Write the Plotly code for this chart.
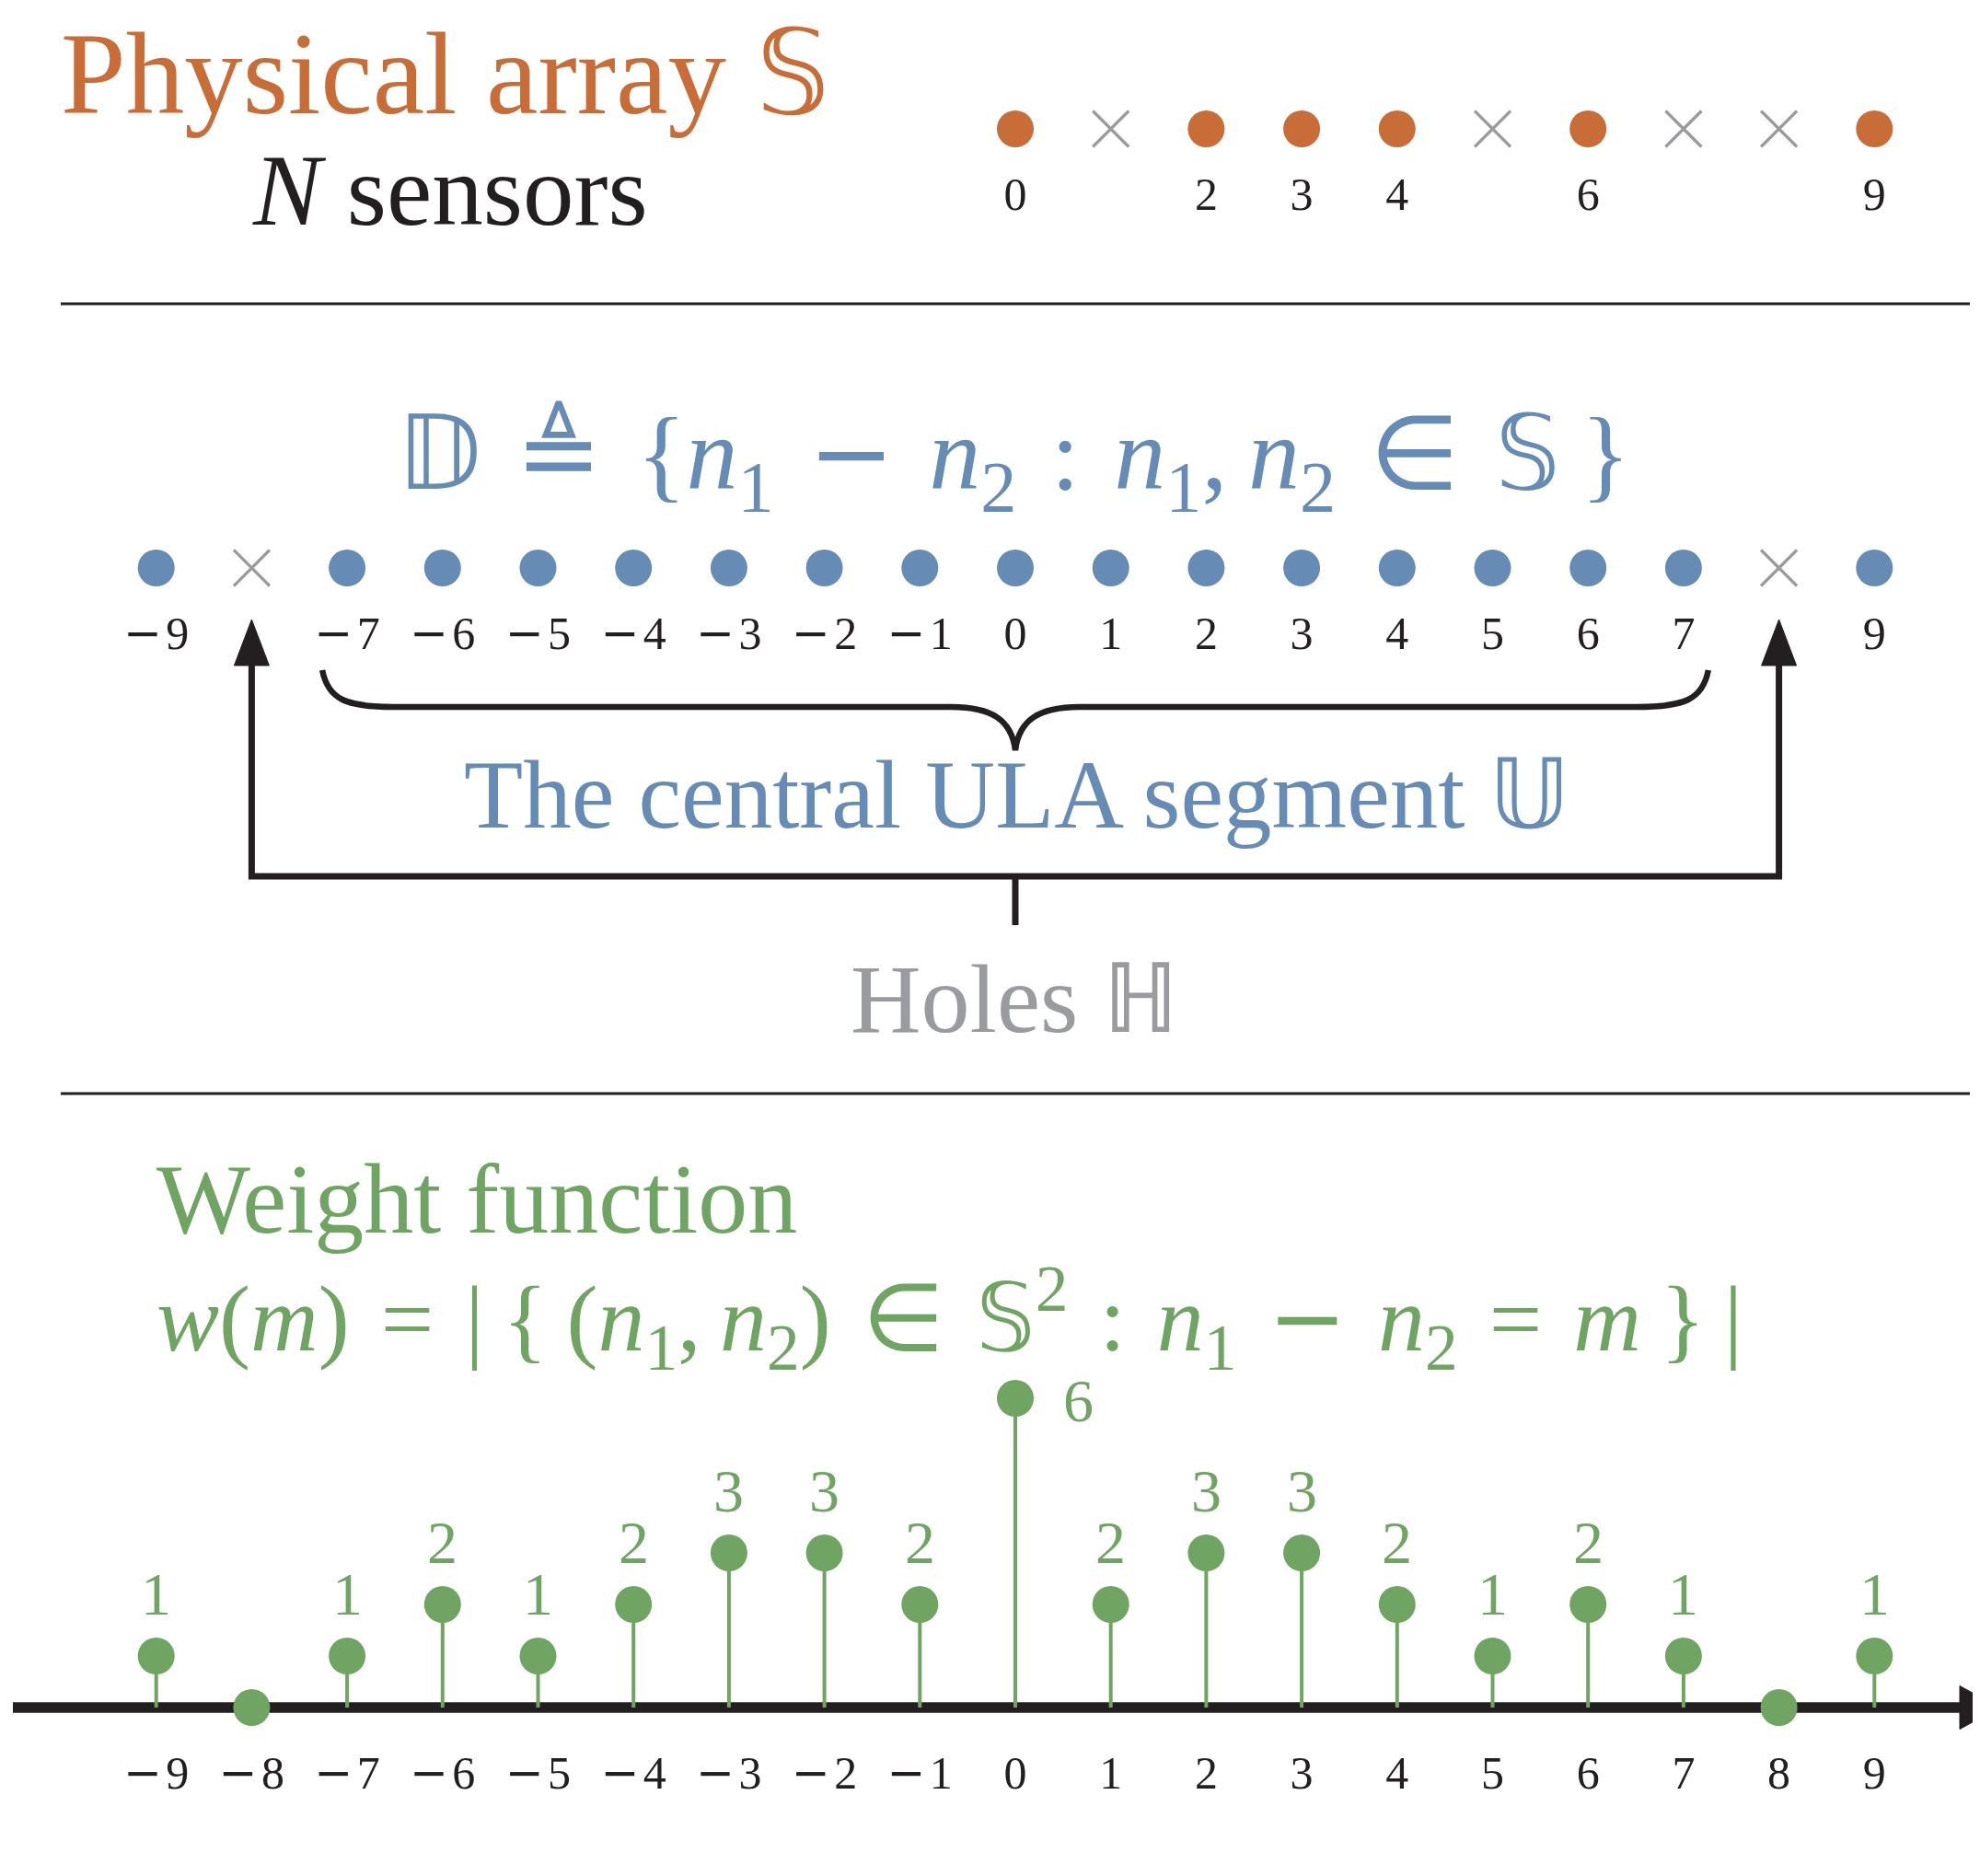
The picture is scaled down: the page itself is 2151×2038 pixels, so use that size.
import plotly.graph_objects as go

# ---------------- data ----------------
physical_sensors = [0, 2, 3, 4, 6, 9]          # S
physical_empty = [1, 5, 7, 8]                   # unoccupied positions in [0, 9]
diff_coarray = [-9, -7, -6, -5, -4, -3, -2, -1, 0, 1, 2, 3, 4, 5, 6, 7, 9]   # D
holes = [-8, 8]                                  # H
ula_segment = [-7, 7]                            # U end points
lags = list(range(-9, 10))
weights = [1, 0, 1, 2, 1, 2, 3, 3, 2, 6, 2, 3, 3, 2, 1, 2, 1, 0, 1]

MINUS = "<span style='font-family:DejaVu Sans'>\u2212</span>"


def lab(v):
    return (MINUS + "\u200a" + str(-v)) if v < 0 else str(v)


physical_labels = [lab(v) for v in physical_sensors]
diff_labels = [lab(v) for v in diff_coarray]
lag_labels = [lab(v) for v in lags]

# ---------------- style ----------------
W, H = 2151, 2038
OFF = 8             # page body margin
ORANGE = "#C86C38"
BLUE = "#668CB5"
GREEN = "#70A463"
GRAY = "#9A9B9E"
BLACK = "#231F20"
SERIF = "Liberation Serif"

UNIT = 103.7        # px per lag
X0 = 1103           # page px of lag 0
XR = [(OFF - X0) / UNIT, (W + OFF - X0) / UNIT]

# weight axis: 0 at page px 1855, 56 px per unit
WUNIT = 56.0
WBASE = 1855 - OFF
w_lo = -(H - WBASE) / WUNIT
Y2R = [w_lo, w_lo + H / WUNIT]


def px(xp):
    return (xp - X0) / UNIT


# row positions (page pixel units on layout axis y, top-down)
ROW_S, ROW_S_LAB = 140, 215
ROW_D, ROW_D_LAB = 617, 692
ROW_W_LAB = 1930

fig = go.Figure()

# physical array row
fig.add_trace(go.Scatter(x=physical_sensors, y=[ROW_S] * len(physical_sensors), mode="markers",
                         marker=dict(size=40, color=ORANGE), hoverinfo="skip"))
fig.add_trace(go.Scatter(x=physical_empty, y=[ROW_S] * len(physical_empty), mode="markers",
                         marker=dict(size=39, symbol="x-thin", line=dict(width=3.2, color=GRAY)),
                         hoverinfo="skip"))
fig.add_trace(go.Scatter(x=physical_sensors, y=[ROW_S_LAB] * len(physical_sensors), mode="text",
                         text=physical_labels, textposition="middle center",
                         textfont=dict(family=SERIF, size=50, color=BLACK), hoverinfo="skip"))

# difference coarray row
fig.add_trace(go.Scatter(x=diff_coarray, y=[ROW_D] * len(diff_coarray), mode="markers",
                         marker=dict(size=40, color=BLUE), hoverinfo="skip"))
fig.add_trace(go.Scatter(x=holes, y=[ROW_D] * len(holes), mode="markers",
                         marker=dict(size=39, symbol="x-thin", line=dict(width=3.2, color=GRAY)),
                         hoverinfo="skip"))
fig.add_trace(go.Scatter(x=diff_coarray, y=[ROW_D_LAB] * len(diff_coarray), mode="text",
                         text=diff_labels, textposition="middle center",
                         textfont=dict(family=SERIF, size=50, color=BLACK), hoverinfo="skip"))

# weight function stems
sx, sy = [], []
for m, w in zip(lags, weights):
    if w > 0:
        sx += [m, m, None]
        sy += [0, w, None]
fig.add_trace(go.Scatter(x=sx, y=sy, mode="lines", yaxis="y2",
                         line=dict(color=GREEN, width=4), hoverinfo="skip"))
fig.add_trace(go.Scatter(x=lags, y=weights, mode="markers", yaxis="y2",
                         marker=dict(size=40, color=GREEN), hoverinfo="skip"))
fig.add_trace(go.Scatter(x=lags, y=[ROW_W_LAB] * len(lags), mode="text",
                         text=lag_labels, textposition="middle center",
                         textfont=dict(family=SERIF, size=50, color=BLACK), hoverinfo="skip"))

annotations = []
wmax = max(weights)
for m, w in zip(lags, weights):
    if w == 0:
        continue
    if w == wmax:
        annotations.append(dict(x=m, y=w, xref="x", yref="y2", text=str(w), showarrow=False,
                                xanchor="center", yanchor="middle", xshift=68, yshift=-2,
                                font=dict(family=SERIF, size=66, color=GREEN)))
    else:
        annotations.append(dict(x=m, y=w, xref="x", yref="y2", text=str(w), showarrow=False,
                                xanchor="center", yanchor="middle", yshift=68,
                                font=dict(family=SERIF, size=66, color=GREEN)))


def ptxt(x, y, text, size, color, xanchor="left"):
    return dict(x=(x - OFF) / W, y=1 - (y - OFF) / H, xref="paper", yref="paper", text=text,
                showarrow=False, xanchor=xanchor, yanchor="middle",
                font=dict(family=SERIF, size=size, color=color))


S = "\U0001D54A"
D = "\U0001D53B"
U = "\U0001D54C"
HH = "\u210D"
n1 = "<i>n</i><sub>1</sub>"
n2 = "<i>n</i><sub>2</sub>"
sp = "\u2004"   # three-per-em space
th = "\u2009"   # thin space

blue_formula = (f"{D}{sp}\u225C{sp}{{{n1}{sp}{MINUS}{sp}{n2}{sp}:{sp}{n1},{th}{n2}"
                f"{sp}\u2208{sp}{S}{th}}}")
green_formula = (f"<i>w</i>(<i>m</i>){sp}={sp}|{th}{{{th}({n1},{th}{n2}){sp}\u2208{sp}"
                 f"{S}<sup>2</sup>{sp}:{sp}{n1}{sp}{MINUS}{sp}{n2}{sp}={sp}<i>m</i>{th}}}{th}|")

annotations += [
    ptxt(64, 80, "Physical array " + S, 127, ORANGE),
    ptxt(272, 206, "<i>N</i> sensors", 111, BLACK),
    ptxt(1101, 500, blue_formula, 112, BLUE, "center"),
    ptxt(1104, 864, "The central ULA segment " + U, 105, BLUE, "center"),
    ptxt(1102, 1085, "Holes " + HH, 106, GRAY, "center"),
    ptxt(168, 1302, "Weight function", 108, GREEN),
    ptxt(168, 1431, green_formula, 102, GREEN),
]

shapes = []
# separators
for yy in (330, 1188):
    shapes.append(dict(type="line", xref="paper", yref="y", x0=(66 - OFF) / W, x1=(2140 - OFF) / W,
                       y0=yy, y1=yy, line=dict(color=BLACK, width=3)))

# hole arrows
hl, hr = holes
ybar, ytop_line, ytip = 952, 722, 673
shapes.append(dict(type="path", xref="x", yref="y",
                   path=f"M{hl},{ytop_line} L{hl},{ybar} L{hr},{ybar} L{hr},{ytop_line}",
                   line=dict(color=BLACK, width=7)))
hc = (hl + hr) / 2
shapes.append(dict(type="line", xref="x", yref="y", x0=hc, x1=hc, y0=ybar, y1=1005,
                   line=dict(color=BLACK, width=7)))
hw = 19 / UNIT
for h in holes:
    shapes.append(dict(type="path", xref="x", yref="y",
                       path=f"M{h},{ytip} L{h + hw},{723} L{h - hw},{723} Z",
                       fillcolor=BLACK, line=dict(color=BLACK, width=1)))

# brace for the central ULA segment
ul, ur = ula_segment
e = 0.26
bl, br = ul - e, ur + e
yb0, yb1, yb2 = 728, 768, 815
brace = (f"M{bl},{yb0} C{bl + 0.06},{yb1 - 8} {bl + 0.25},{yb1} {bl + 0.75},{yb1} "
         f"L{-0.67},{yb1} C{-0.25},{yb1} {-0.04},{yb1 + 14} 0,{yb2} "
         f"C{0.04},{yb1 + 14} {0.25},{yb1} {0.67},{yb1} "
         f"L{br - 0.75},{yb1} C{br - 0.25},{yb1} {br - 0.06},{yb1 - 8} {br},{yb0}")
shapes.append(dict(type="path", xref="x", yref="y", path=brace, line=dict(color=BLACK, width=6.5)))

# lag axis with arrow
ax_l, ax_r, ax_tip = px(14), px(2129), px(2172)
shapes.append(dict(type="line", xref="x", yref="y2", x0=ax_l, x1=ax_r, y0=0, y1=0,
                   line=dict(color=BLACK, width=11.5), layer="below"))
ah = 23.5 / WUNIT
shapes.append(dict(type="path", xref="x", yref="y2",
                   path=f"M{ax_r},{-ah} L{ax_tip},0 L{ax_r},{ah} Z",
                   fillcolor=BLACK, line=dict(color=BLACK, width=1), layer="below"))

fig.update_layout(
    width=W, height=H, margin=dict(l=0, r=0, t=0, b=0),
    paper_bgcolor="white", plot_bgcolor="rgba(0,0,0,0)",
    showlegend=False,
    xaxis=dict(range=XR, visible=False, fixedrange=True),
    yaxis=dict(range=[H + OFF, OFF], visible=False, fixedrange=True),
    yaxis2=dict(range=Y2R, visible=False, overlaying="y", fixedrange=True),
    annotations=annotations, shapes=shapes,
)

fig.write_html("out.html")
